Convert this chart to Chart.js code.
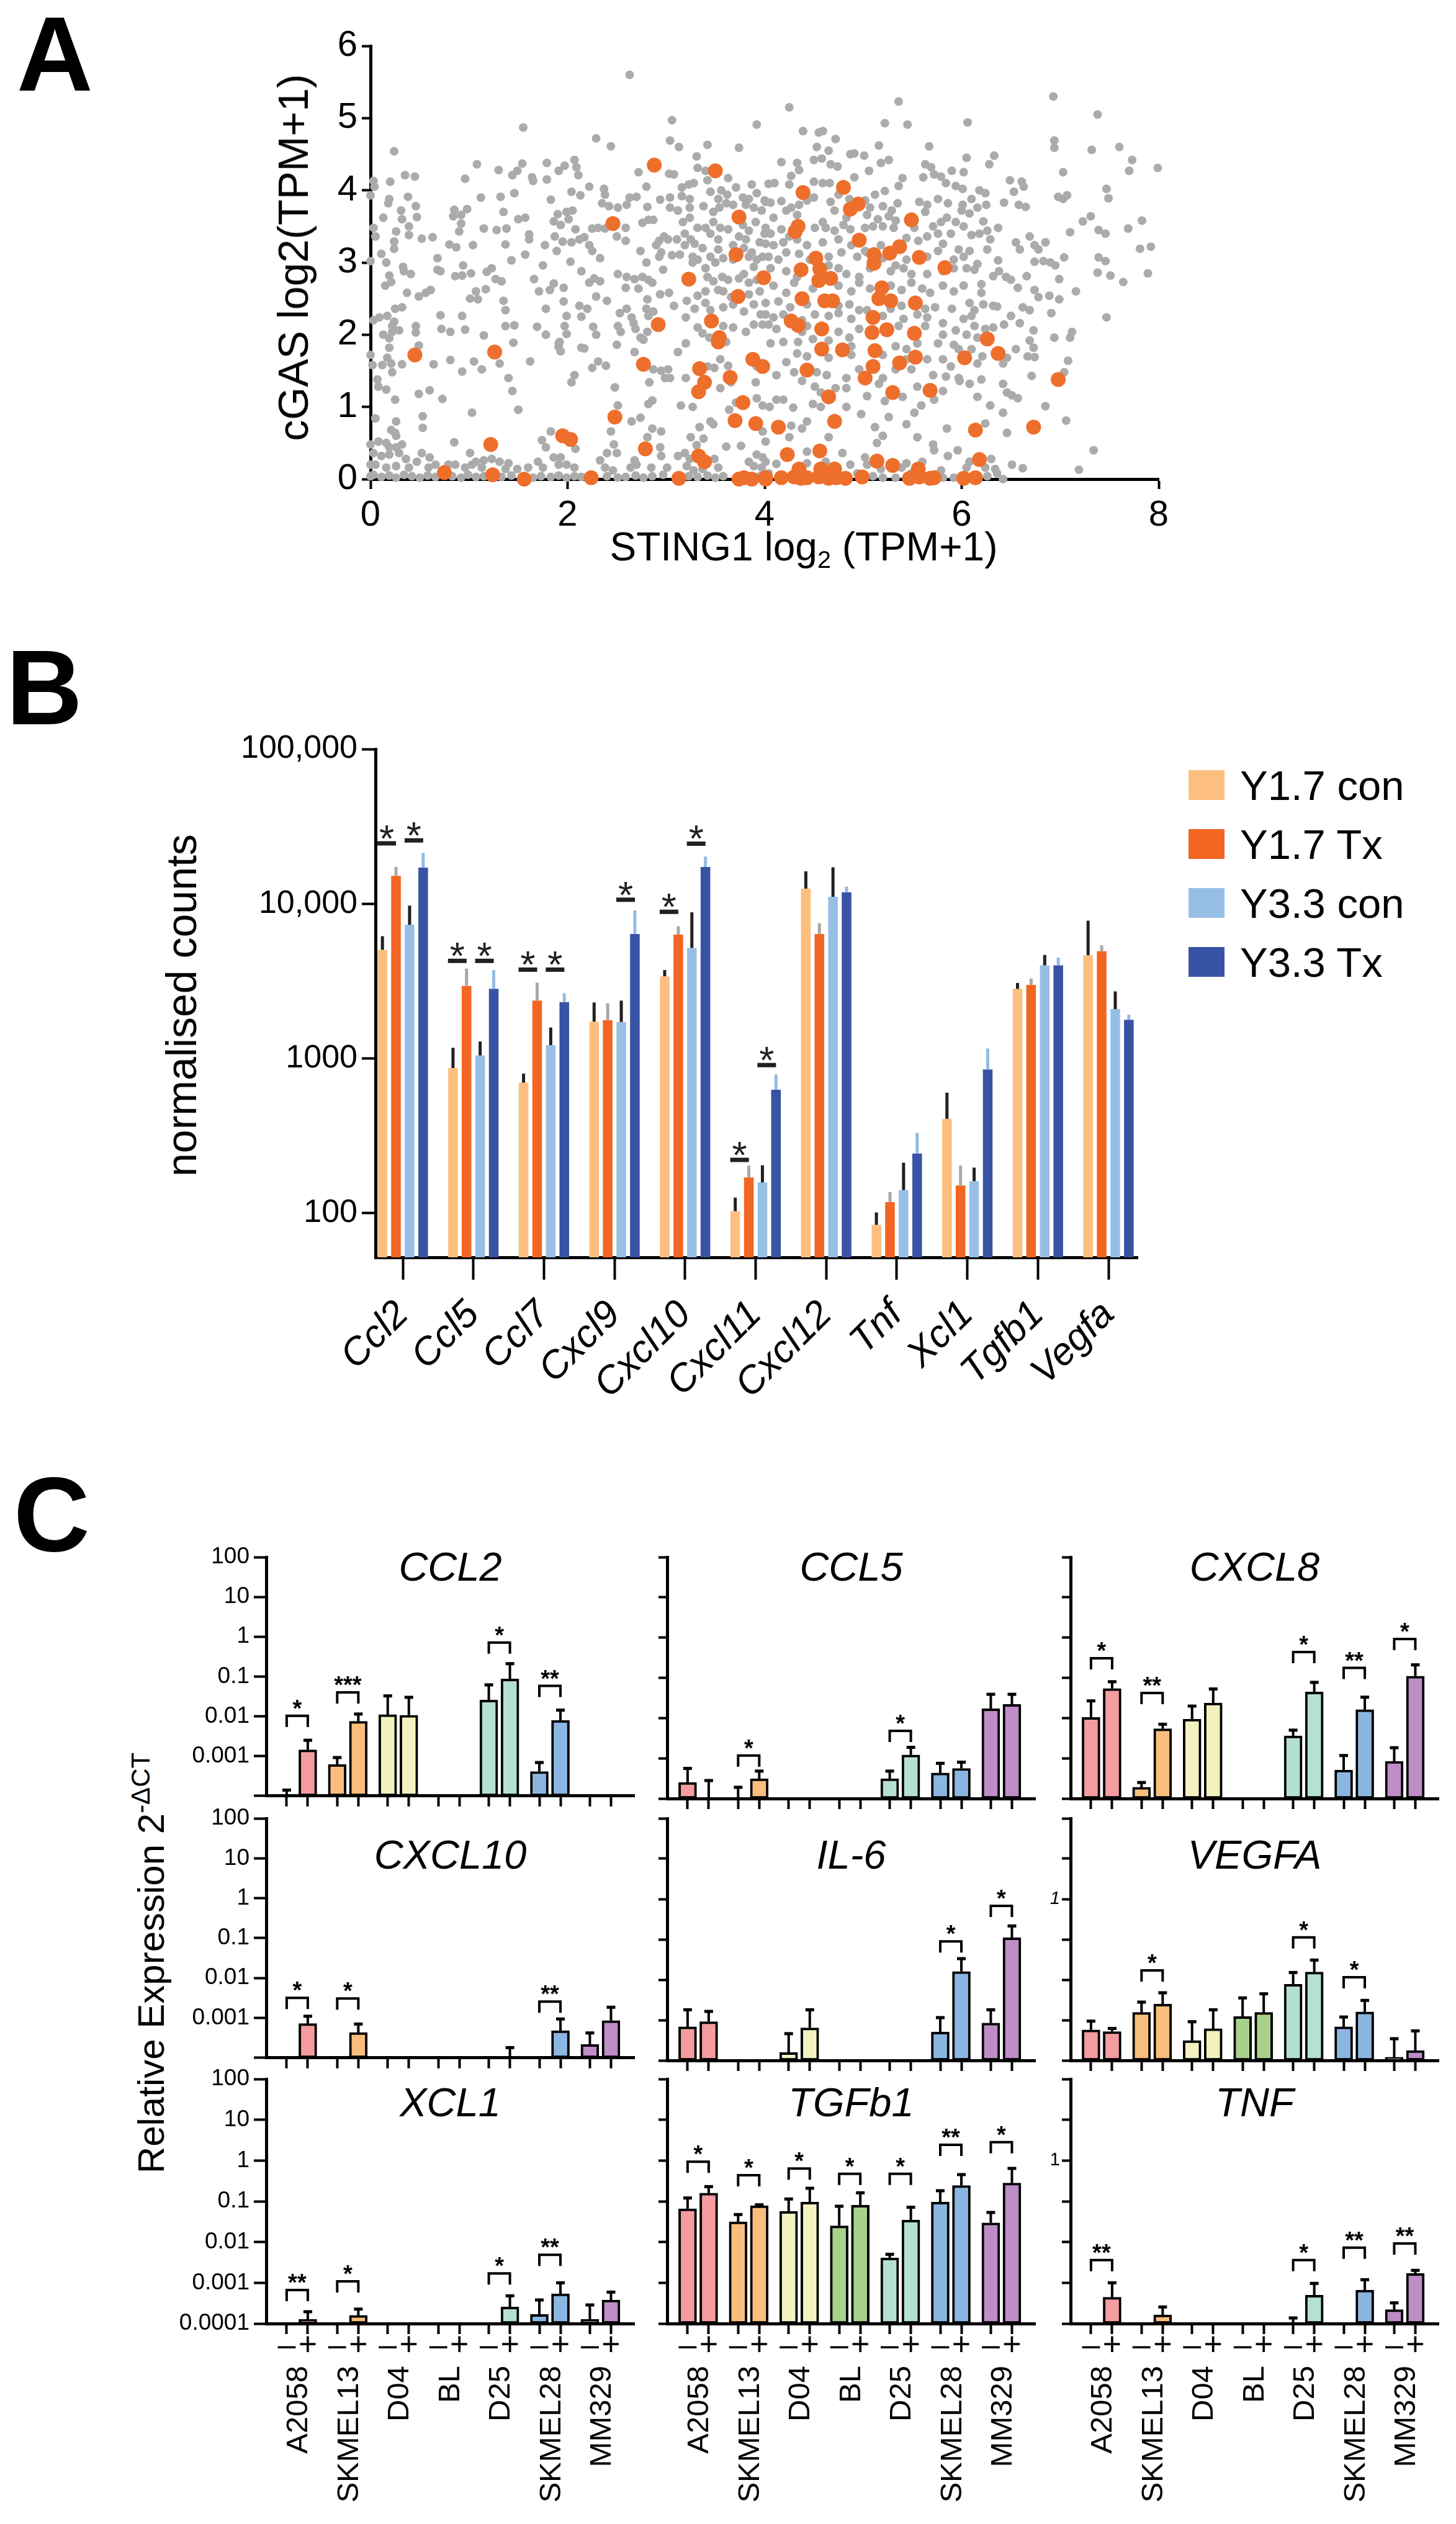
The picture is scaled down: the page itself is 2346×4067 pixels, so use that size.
<!DOCTYPE html>
<html><head><meta charset="utf-8">
<script src="https://cdn.jsdelivr.net/npm/chart.js@4.4.1/dist/chart.umd.min.js"></script>
<style>
html,body{margin:0;padding:0;background:#fff;}
body{width:2346px;height:4067px;position:relative;overflow:hidden;font-family:'Liberation Sans',Arial,sans-serif;color:#000;}
canvas{position:absolute;}
.t{position:absolute;line-height:1;white-space:nowrap;}
</style></head>
<body>
<script>
// ---------------- DATA: panel A (STING1 vs cGAS, log2(TPM+1)) ----------------
const highlightGenes = [
[2.88,4.35],[3.50,4.27],[2.46,3.54],[3.74,3.63],[3.71,3.11],[3.23,2.77],[3.73,2.53],[3.99,2.79],[2.92,2.14],[3.46,2.19],[3.54,1.96],[3.53,1.90],[0.45,1.72],[1.26,1.76],[2.77,1.59],[3.34,1.53],[3.39,1.34],[3.33,1.21],[3.65,1.41],[3.88,1.66],[3.98,1.56],[3.78,1.06],[3.70,0.81],[3.91,0.77],[2.48,0.86],[1.95,0.60],[2.03,0.55],[1.22,0.48],[2.79,0.42],[3.33,0.32],[3.39,0.24],[0.75,0.09],[1.24,0.06],[1.56,0.00],[2.24,0.02],[3.13,0.01],[3.74,0.00],[3.79,0.02],[3.87,0.00],[4.01,0.00],
[4.39,3.97],[4.80,4.04],[4.87,3.74],[4.95,3.81],[5.49,3.59],[4.34,3.50],[4.31,3.43],[4.96,3.31],[4.52,3.06],[5.11,3.11],[5.11,2.99],[5.27,3.13],[5.37,3.22],[5.57,3.07],[5.83,2.93],[4.37,2.90],[4.56,2.91],[4.55,2.75],[4.67,2.78],[5.19,2.65],[4.38,2.50],[4.61,2.47],[4.69,2.47],[5.16,2.50],[5.28,2.47],[5.53,2.44],[4.27,2.19],[4.34,2.13],[4.58,2.08],[5.10,2.24],[5.09,2.03],[5.24,2.07],[5.52,2.02],[4.58,1.80],[4.79,1.79],[5.12,1.78],[5.53,1.69],[5.37,1.61],[5.10,1.56],[5.02,1.40],[4.43,1.51],[6.26,1.94],[6.37,1.74],[6.03,1.68],[6.98,1.38],[4.65,1.14],[5.30,1.20],[5.68,1.23],[4.71,0.80],[4.14,0.72],[6.14,0.68],[6.73,0.72],[4.23,0.34],[4.56,0.39],[5.14,0.25],[5.30,0.19],[6.18,0.27],
[4.01,0.02],[4.17,0.02],[4.30,0.03],[4.37,0.01],[4.43,0.02],[4.55,0.03],[4.65,0.01],[4.73,0.02],[4.82,0.01],[4.99,0.03],[5.47,0.01],[5.57,0.03],[5.68,0.01],[5.72,0.02],[6.02,0.01],[6.14,0.02],[4.35,0.14],[4.71,0.14],[4.57,0.14],[5.56,0.14]
];
const otherGenes = [
[2.63,5.60],[1.55,4.87],[3.06,4.97],[3.92,4.91],[2.29,4.72],[2.44,4.61],[3.04,4.69],[3.13,4.60],[3.42,4.63],[3.74,4.59],[0.24,4.54],[3.31,4.47],
[1.08,4.36],[1.54,4.37],[1.79,4.38],[2.07,4.42],[1.97,4.34],[1.91,4.27],[2.09,4.32],[2.11,4.21],[1.30,4.28],[1.49,4.27],[1.44,4.21],[0.35,4.21],[0.45,4.19],[2.72,4.25],[3.03,4.23],[3.08,4.22],[3.32,4.31],[3.40,4.27],[3.63,4.17],
[0.03,4.13],[0.04,4.05],[0.20,4.12],[0.96,4.16],[1.64,4.18],[1.65,4.13],[1.79,4.15],[2.22,4.05],[2.37,4.02],[2.80,4.05],[3.16,4.04],[3.23,4.08],[3.28,4.10],[3.42,4.14],[3.87,4.08],[3.92,3.96],[3.56,4.00],[3.62,3.94],[3.71,4.04],
[0.00,3.93],[0.19,3.88],[0.18,3.82],[0.38,3.91],[1.12,3.90],[1.32,3.91],[1.46,3.96],[1.83,3.87],[2.04,3.98],[2.13,3.93],[2.38,3.94],[2.63,3.90],[2.70,3.91],[2.94,3.87],[3.04,3.90],[3.16,3.92],[3.24,3.88],[3.45,3.98],[3.53,3.88],[3.61,3.82],[3.78,3.90],[3.84,3.88],[4.00,3.86],
[0.31,3.72],[0.46,3.78],[0.85,3.73],[0.98,3.74],[1.35,3.70],[1.50,3.60],[1.57,3.62],[1.90,3.67],[1.99,3.70],[2.05,3.72],[2.35,3.82],[2.42,3.78],[2.51,3.76],[2.60,3.80],[2.81,3.77],[3.04,3.76],[3.12,3.72],[3.24,3.76],[3.38,3.78],[3.48,3.70],[3.54,3.76],[3.68,3.80],[3.81,3.80],[3.89,3.76],[3.97,3.72],
[0.13,3.62],[0.32,3.60],[0.47,3.63],[0.84,3.64],[0.92,3.66],[1.15,3.47],[1.28,3.45],[1.38,3.47],[1.86,3.57],[2.01,3.60],[2.08,3.46],[2.25,3.47],[2.31,3.48],[2.38,3.47],[2.59,3.48],[2.76,3.55],[2.82,3.59],[2.87,3.59],[3.17,3.56],[3.24,3.62],[3.32,3.48],[3.40,3.48],[3.48,3.56],[3.55,3.48],[3.63,3.46],[3.78,3.52],[3.84,3.44],[3.91,3.56],[4.00,3.40],
[0.03,3.48],[0.26,3.43],[0.39,3.50],[0.92,3.54],[1.93,3.52],[3.19,3.40],[3.11,3.32],[3.25,3.32],[3.45,3.40],[3.53,3.32],[3.74,3.36],[3.81,3.32],
[0.05,3.36],[0.39,3.38],[0.52,3.33],[0.63,3.35],[0.90,3.43],[1.61,3.39],[1.61,3.32],[1.87,3.36],[2.17,3.35],[2.12,3.32],[2.98,3.36],[3.02,3.32],[2.93,3.30],
[0.24,3.29],[0.24,3.19],[0.80,3.25],[0.87,3.21],[1.04,3.24],[1.37,3.25],[1.77,3.24],[1.95,3.29],[2.04,3.28],[2.22,3.24],[2.25,3.16],[2.50,3.36],[2.59,3.30],[2.74,3.16],[2.90,3.24],[2.95,3.14],[3.19,3.24],[3.29,3.26],[3.37,3.20],[3.53,3.18],[3.68,3.24],[3.79,3.20],[3.87,3.14],[3.95,3.28],
[0.11,3.12],[1.57,3.11],[1.89,3.16],[2.33,3.06],[3.06,3.10],[3.14,3.11],[3.27,3.08],[3.32,3.04],[3.45,3.08],[3.58,3.06],[3.68,3.04],[3.84,3.08],[3.92,3.04],[3.98,3.08],
[0.00,3.02],[0.16,3.00],[0.68,3.06],[1.43,3.03],[2.03,3.01],[2.80,3.00],[2.93,3.08],[3.27,3.00],[3.50,3.00],[3.89,2.94],
[0.33,2.94],[0.34,2.88],[0.41,2.84],[0.94,2.96],[1.75,2.96],[2.51,2.84],[2.97,2.90],[3.40,2.92],
[0.19,2.82],[0.21,2.73],[0.15,2.68],[0.68,2.90],[0.71,2.88],[0.86,2.81],[0.93,2.82],[1.02,2.85],[1.18,2.87],[1.23,2.92],[1.27,2.77],[1.33,2.74],[1.66,2.77],[1.86,2.71],[1.96,2.65],[1.82,2.62],[2.14,2.88],[2.22,2.72],[2.27,2.78],[2.33,2.74],[2.60,2.80],[2.68,2.77],[2.76,2.80],[2.82,2.76],[2.86,2.72],[3.42,2.80],[3.48,2.74],[3.57,2.80],[3.63,2.76],[3.74,2.78],[3.79,2.84],[3.84,2.72],[3.92,2.76],
[0.37,2.58],[0.49,2.53],[0.56,2.58],[0.61,2.62],[1.01,2.50],[1.07,2.60],[1.09,2.49],[1.17,2.63],[1.35,2.47],[1.71,2.60],[1.96,2.46],[2.29,2.53],[2.40,2.47],[2.59,2.65],[2.72,2.64],[2.81,2.49],[2.94,2.56],[3.03,2.58],[3.08,2.40],[3.21,2.47],[3.32,2.54],[3.40,2.60],[3.53,2.62],[3.58,2.60],[3.66,2.52],[3.84,2.56],[3.95,2.60],
[0.25,2.36],[0.32,2.38],[0.71,2.27],[0.93,2.26],[1.37,2.34],[1.78,2.36],[1.99,2.26],[2.12,2.40],[2.20,2.36],[2.14,2.25],[2.53,2.30],[2.60,2.36],[2.65,2.24],[2.80,2.36],[2.87,2.32],[2.82,2.26],[3.20,2.24],[3.29,2.36],[3.40,2.44],[3.45,2.34],[3.58,2.38],[3.68,2.42],[3.79,2.32],[3.89,2.42],[3.96,2.28],
[0.03,2.20],[0.09,2.24],[0.17,2.26],[0.24,2.18],[0.22,2.12],[0.46,2.12],[0.46,2.03],[0.72,2.08],[0.81,2.04],[0.96,2.07],[1.37,2.12],[1.46,2.13],[1.69,2.11],[1.97,2.12],[2.26,2.11],[2.51,2.12],[2.54,2.04],[2.67,2.16],[2.69,2.08],[2.74,1.96],[2.81,2.04],[3.32,2.10],[3.58,2.12],[3.68,2.10],[3.81,2.04],[3.89,2.14],[3.98,2.14],
[0.13,2.00],[0.22,2.04],[0.29,2.06],[0.19,1.95],[1.15,1.99],[1.45,1.89],[1.78,2.00],[1.99,2.01],[1.92,1.90],[2.29,2.00],[2.50,1.86],[2.68,1.76],[2.77,1.93],[3.20,1.88],[3.61,1.90],[3.37,2.02],[3.44,1.96],
[0.00,1.72],[0.02,1.58],[0.17,1.68],[0.19,1.82],[0.21,1.60],[0.22,1.48],[0.12,1.58],[0.32,1.59],[0.49,1.85],[0.64,1.59],[0.81,1.65],[0.93,1.49],[1.05,1.63],[1.13,1.52],[1.31,1.60],[1.62,1.63],[1.91,1.83],[1.93,1.77],[1.91,1.88],[2.14,1.82],[2.17,1.81],[2.25,1.54],[2.31,1.63],[2.39,1.57],[2.87,1.52],[2.95,1.50],[3.02,1.52],[2.99,1.40],[3.04,1.40],[3.20,1.40],[3.12,1.76],[3.42,1.56],[3.49,1.54],[3.63,1.57],[3.55,1.66],[3.92,1.56],
[0.07,1.38],[0.08,1.28],[0.16,1.24],[1.40,1.40],[2.07,1.44],[2.04,1.34],[2.83,1.34],[3.55,1.26],[3.66,1.34],[3.91,1.34],
[0.49,1.18],[0.60,1.23],[0.25,1.10],[0.73,1.11],[1.44,1.22],[1.50,0.96],[2.48,1.27],[2.51,1.02],[2.86,1.09],[2.82,1.04],[3.15,1.02],[3.27,1.00],[3.92,1.12],[3.71,1.06],[3.64,0.96],
[0.05,0.84],[0.53,0.87],[0.53,0.71],[0.26,0.80],[1.03,0.92],[3.45,0.80],[3.34,0.72],[2.74,0.85],[2.65,0.80],[3.98,1.02],
[0.21,0.68],[0.25,0.64],[1.83,0.66],[2.86,0.70],[2.95,0.66],[3.48,0.76],[2.44,0.66],[3.98,0.66],[3.61,0.45],[3.76,0.46],
[0.00,0.48],[0.08,0.52],[0.16,0.50],[0.19,0.44],[0.26,0.60],[0.32,0.48],[0.26,0.44],[0.85,0.51],[1.74,0.54],[1.78,0.44],[2.08,0.42],[2.47,0.48],[2.81,0.58],[2.94,0.44],[3.25,0.58],[3.38,0.56],[3.31,0.47],
[0.03,0.36],[0.11,0.32],[0.19,0.34],[0.29,0.36],[0.36,0.28],[0.52,0.36],[0.60,0.30],[1.01,0.36],[1.07,0.24],[1.15,0.26],[1.23,0.28],[1.31,0.24],[1.40,0.22],[1.70,0.24],[1.86,0.30],[1.93,0.30],[2.33,0.26],[2.40,0.36],[2.50,0.36],[2.68,0.26],[2.95,0.32],[3.12,0.32],[3.19,0.36],[3.24,0.28],[3.49,0.28],[3.92,0.34],[3.98,0.30],[3.84,0.24],
[0.00,0.20],[0.05,0.20],[0.16,0.16],[0.26,0.18],[0.39,0.16],[0.47,0.24],[0.59,0.16],[0.66,0.20],[0.79,0.20],[0.86,0.20],[0.96,0.16],[1.03,0.20],[1.13,0.16],[1.37,0.14],[1.49,0.14],[1.60,0.16],[1.75,0.16],[1.91,0.20],[1.99,0.20],[2.07,0.16],[2.38,0.16],[2.46,0.12],[2.64,0.16],[2.70,0.20],[2.85,0.16],[3.01,0.16],[3.21,0.18],[3.28,0.12],[3.37,0.14],[3.53,0.16],[3.89,0.18],[3.97,0.16],
[0.00,0.04],[0.03,0.06],[0.11,0.03],[0.19,0.05],[0.26,0.02],[0.34,0.06],[0.42,0.04],[0.50,0.02],[0.58,0.05],[0.66,0.03],[0.83,0.04],[0.92,0.02],[0.99,0.06],[1.07,0.03],[1.15,0.04],[1.33,0.03],[1.43,0.05],[1.65,0.02],[1.73,0.04],[1.83,0.03],[1.91,0.05],[1.99,0.02],[2.07,0.04],[2.14,0.03],[2.40,0.04],[2.51,0.02],[2.59,0.03],[2.69,0.05],[2.77,0.02],[2.86,0.04],[2.97,0.06],[3.23,0.04],[3.32,0.03],[3.42,0.05],[3.50,0.02],[3.58,0.04],[3.95,0.04],
[6.93,5.30],[5.36,5.23],[4.25,5.15],[7.38,5.05],[5.22,4.93],[5.45,4.91],[6.06,4.94],[4.39,4.82],[4.55,4.80],[4.59,4.82],[4.72,4.71],[6.94,4.69],[6.94,4.59],[7.32,4.56],[7.60,4.60],[5.16,4.62],[5.67,4.61],[4.53,4.60],[4.65,4.55],
[4.17,4.39],[4.33,4.38],[4.35,4.28],[4.50,4.42],[4.58,4.44],[4.67,4.36],[4.74,4.33],[4.87,4.50],[4.91,4.51],[5.01,4.48],[5.18,4.38],[5.26,4.42],[5.06,4.27],[5.63,4.36],[5.69,4.32],[6.05,4.45],[6.33,4.48],[6.28,4.36],[7.73,4.42],[7.70,4.27],[7.99,4.31],[7.03,4.25],[5.90,4.27],[6.02,4.25],
[4.27,4.20],[4.25,4.08],[4.04,4.09],[4.10,4.10],[4.50,4.12],[4.59,4.10],[4.66,4.10],[4.91,4.18],[5.40,4.17],[5.36,4.06],[5.61,4.18],[5.72,4.22],[5.79,4.19],[5.84,4.10],[5.94,4.06],[6.01,4.02],[6.18,4.00],[6.24,3.96],[6.49,4.14],[6.61,4.12],[6.63,4.05],[6.53,3.98],[7.47,4.02],[7.49,3.89],[6.98,3.91],[7.07,3.93],[7.03,3.88],
[4.01,3.84],[4.06,3.83],[4.17,3.85],[4.27,3.76],[4.35,3.80],[4.43,3.86],[4.50,3.90],[4.67,3.84],[4.75,3.94],[4.86,3.88],[5.02,3.86],[5.12,3.94],[5.22,3.99],[5.07,3.76],[5.20,3.78],[5.29,3.72],[5.35,3.82],[5.57,3.84],[5.65,3.80],[5.76,3.88],[5.86,3.82],[6.01,3.80],[6.10,3.88],[6.16,3.76],[6.25,3.80],[6.43,3.83],[6.58,3.80],[6.65,3.77],
[4.09,3.62],[4.22,3.72],[4.33,3.66],[4.59,3.56],[4.71,3.72],[4.83,3.62],[5.04,3.66],[5.15,3.60],[5.26,3.64],[5.33,3.58],[5.63,3.70],[5.71,3.50],[5.79,3.56],[5.85,3.62],[5.94,3.56],[6.00,3.72],[6.08,3.68],[6.22,3.57],[7.23,3.57],[7.31,3.64],[7.83,3.58],[7.69,3.47],
[4.01,3.48],[4.06,3.40],[4.17,3.46],[4.25,3.36],[4.51,3.48],[4.62,3.48],[4.71,3.44],[4.80,3.52],[4.87,3.46],[5.02,3.48],[5.10,3.50],[5.20,3.50],[5.31,3.48],[5.52,3.48],[5.65,3.36],[5.76,3.40],[5.89,3.40],[6.02,3.50],[6.10,3.38],[6.18,3.40],[6.26,3.44],[6.37,3.48],[6.29,3.32],[7.10,3.42],[7.39,3.45],[7.46,3.40],
[4.01,3.26],[4.09,3.24],[4.19,3.28],[4.33,3.32],[4.43,3.24],[4.59,3.28],[4.75,3.32],[4.88,3.24],[5.02,3.16],[5.18,3.24],[5.44,3.34],[5.56,3.30],[5.81,3.26],[5.97,3.18],[6.08,3.16],[6.26,3.18],[6.55,3.28],[6.59,3.18],[6.69,3.36],[6.74,3.24],[6.78,3.18],[6.85,3.28],[7.81,3.19],[7.92,3.22],
[4.04,3.08],[4.14,3.04],[4.22,3.14],[4.35,3.12],[4.46,3.04],[4.65,3.08],[4.78,3.14],[4.94,3.08],[5.04,3.14],[5.20,3.06],[5.33,2.96],[5.44,3.04],[5.65,3.08],[5.76,3.16],[5.92,3.04],[6.02,3.08],[6.16,2.98],[6.37,3.03],[6.74,3.01],[6.83,3.02],[6.90,3.00],[6.95,2.96],[7.04,3.07],[7.39,3.07],[7.46,3.02],
[4.06,2.92],[4.22,2.88],[4.33,2.80],[4.65,2.96],[4.75,2.92],[4.83,2.84],[4.96,2.80],[5.07,2.92],[5.28,2.88],[5.41,2.92],[5.49,2.84],[5.65,2.84],[5.81,2.88],[5.92,2.92],[6.05,2.92],[6.13,2.90],[6.32,2.81],[6.38,2.88],[6.45,2.80],[6.50,2.76],[6.66,2.81],[6.99,2.77],[7.38,2.86],[7.51,2.82],[7.64,2.73],[7.89,2.85],
[4.09,2.68],[4.22,2.58],[4.30,2.72],[4.49,2.64],[4.75,2.68],[4.88,2.60],[4.96,2.72],[5.07,2.64],[5.28,2.68],[5.39,2.62],[5.49,2.72],[5.60,2.64],[5.68,2.58],[5.81,2.68],[5.92,2.60],[6.02,2.68],[6.20,2.70],[6.20,2.58],[6.57,2.65],[6.74,2.62],[6.78,2.52],[6.89,2.54],[6.99,2.49],[7.16,2.60],
[4.01,2.44],[4.14,2.46],[4.26,2.38],[4.43,2.42],[4.75,2.40],[4.86,2.42],[4.96,2.34],[5.28,2.36],[5.39,2.40],[5.63,2.36],[5.73,2.38],[5.90,2.36],[6.08,2.44],[6.13,2.34],[6.22,2.42],[6.32,2.40],[6.36,2.39],[6.62,2.38],[6.69,2.34],[6.91,2.30],[7.47,2.24],
[4.01,2.28],[4.09,2.24],[4.19,2.28],[4.38,2.20],[4.51,2.28],[4.65,2.26],[4.75,2.30],[4.88,2.22],[5.04,2.34],[5.20,2.26],[5.41,2.22],[5.55,2.28],[5.65,2.24],[5.81,2.16],[6.02,2.22],[6.10,2.26],[6.13,2.12],[6.50,2.26],[6.59,2.16],[6.73,2.06],
[4.04,2.14],[4.12,2.08],[4.38,2.04],[4.43,2.12],[4.75,2.04],[4.86,1.96],[4.96,2.08],[5.36,2.12],[5.63,2.12],[5.81,2.00],[5.94,2.06],[6.05,2.00],[6.16,1.96],[6.24,2.08],[6.32,2.10],[6.43,2.14],[6.69,1.92],[6.94,1.96],[7.10,1.96],[7.12,2.04],
[4.06,1.88],[4.19,1.90],[4.34,1.90],[4.49,1.94],[4.65,1.92],[4.88,1.84],[5.33,1.84],[5.44,1.80],[5.55,1.88],[5.76,1.88],[5.92,1.86],[5.97,1.80],[6.10,1.80],[6.21,1.70],[6.46,1.68],[6.55,1.80],[6.73,1.82],[6.67,1.70],[6.74,1.69],
[4.22,1.62],[4.33,1.74],[4.43,1.70],[4.65,1.68],[4.88,1.72],[5.20,1.72],[5.44,1.66],[5.65,1.66],[5.81,1.66],[5.89,1.56],[6.16,1.60],[6.42,1.60],[7.08,1.64],
[4.12,1.44],[4.30,1.48],[4.38,1.36],[4.53,1.48],[4.63,1.44],[4.83,1.40],[4.96,1.52],[5.20,1.40],[5.33,1.52],[5.49,1.52],[5.71,1.44],[5.84,1.42],[5.97,1.40],[6.08,1.32],[6.20,1.38],[6.71,1.43],[7.04,1.48],
[4.51,1.28],[4.57,1.20],[4.72,1.26],[4.83,1.26],[5.16,1.32],[5.55,1.28],[5.81,1.22],[5.98,1.36],[6.42,1.32],[6.46,1.20],[6.51,1.16],[6.57,1.12],
[4.12,1.10],[4.19,1.10],[4.49,1.04],[4.57,1.00],[4.83,1.00],[5.04,1.15],[5.22,1.08],[5.40,1.14],[5.52,0.92],[5.59,1.02],[5.72,1.10],[6.16,1.14],[6.29,1.02],[6.42,0.92],[6.85,1.01],
[4.05,1.00],[4.29,0.99],[4.43,0.80],[4.98,0.90],[5.26,0.86],[5.44,0.76],[7.06,0.81],[6.24,0.77],
[4.27,0.74],[4.38,0.70],[4.25,0.58],[4.65,0.58],[5.12,0.72],[5.20,0.60],[5.55,0.58],[5.85,0.70],[6.46,0.64],[7.34,0.40],
[4.01,0.52],[4.43,0.38],[4.79,0.36],[5.14,0.50],[5.71,0.48],[5.72,0.40],[5.96,0.40],[5.86,0.32],[6.51,0.20],[6.62,0.15],[7.19,0.13],[6.30,0.28],
[4.01,0.24],[4.12,0.21],[4.43,0.22],[4.62,0.24],[4.87,0.20],[5.02,0.30],[5.04,0.20],[5.18,0.14],[5.39,0.16],[5.44,0.22],[5.60,0.24],[5.79,0.12],[6.05,0.16],[6.08,0.24],[6.24,0.16],[6.34,0.14],[6.36,0.08],
[4.04,0.08],[4.59,0.12],[4.94,0.08],[5.10,0.04],[5.20,0.02],[5.33,0.02],[5.49,0.08],[5.81,0.02],[5.92,0.02],[6.26,0.04],[6.42,0.00]
];
const aTicksX = [0,2,4,6,8];
const aTicksY = [0,1,2,3,4,5,6];

// ---------------- DATA: panel B (normalised counts) ----------------
const genesB = ['Ccl2','Ccl5','Ccl7','Cxcl9','Cxcl10','Cxcl11','Cxcl12','Tnf','Xcl1','Tgfb1','Vegfa'];
const y17con   = [5040, 867, 697, 1730, 3396, 103, 12530, 84, 407, 2818, 4645];
const y17conHi = [6170, 1172, 798, 2300, 3727, 126, 16200, 101, 601, 3076, 7770];
const y17tx    = [15170, 2944, 2366, 1770, 6310, 170, 6380, 118, 151, 2992, 4932];
const y17txHi  = [17300, 3810, 3090, 2275, 7160, 203, 7480, 137, 203, 3286, 5380];
const y33con   = [7315, 1045, 1219, 1722, 5180, 158, 11100, 141, 161, 4000, 2084];
const y33conHi = [9730, 1288, 1585, 2366, 8810, 204, 17200, 212, 197, 4670, 2713];
const y33tx    = [17110, 2818, 2313, 6380, 17300, 628, 11860, 243, 849, 4000, 1778];
const y33txHi  = [21300, 3725, 2638, 9060, 20180, 790, 12940, 330, 1159, 4487, 1920];
const seriesNamesB = ['Y1.7 con','Y1.7 Tx','Y3.3 con','Y3.3 Tx'];
// significance: [gene index, pair (0 = Y1.7, 1 = Y3.3), level]
const sigB = [[0,0,24580],[0,1,25680],[1,0,4275],[1,1,4275],[2,0,3750],[2,1,3750],[3,1,10620],[4,0,8870],[4,1,24450],[5,0,221],[5,1,906]];
const bTickValues = [100, 1000, 10000, 100000];
const bTickLabels = ['100', '1000', '10,000', '100,000'];

// ---------------- DATA: panel C (relative expression 2^-dCT) ----------------
const cellLines = ['A2058','SKMEL13','D04','BL','D25','SKMEL28','MM329'];
const treatLabels = ['–','+'];
const cTickValues = [0.0001, 0.001, 0.01, 0.1, 1, 10, 100];
const cTickLabels = ['0.0001','0.001','0.01','0.1','1','10','100'];
// order per gene: A2058 -,+ | SKMEL13 -,+ | D04 -,+ | BL -,+ | D25 -,+ | SKMEL28 -,+ | MM329 -,+
const ccl2Mean  = [0.0001, 0.00143, 0.00062, 0.0075, 0.011, 0.0106, null, null, 0.0257, 0.0867, 0.00041, 0.0079, null, null];
const ccl2Hi    = [0.00014, 0.0025, 0.00092, 0.0114, 0.0326, 0.030, null, null, 0.0616, 0.21, 0.00069, 0.0143, null, null];
const ccl2Sig   = [[0,0.0103,'*'],[1,0.040,'***'],[4,0.71,'*'],[5,0.058,'**']];
const ccl5Mean  = [0.00025, 0.0001, 0.0001, 0.00031, null, null, null, null, 0.00031, 0.00121, 0.00043, 0.00056, 0.017, 0.0218];
const ccl5Hi    = [0.00056, 0.00028, 0.00019, 0.00048, null, null, null, null, 0.00048, 0.00187, 0.00075, 0.0008, 0.0389, 0.0389];
const ccl5Sig   = [[1,0.00117,'*'],[4,0.00481,'*']];
const cxcl8Mean = [0.0104, 0.054, 0.00019, 0.0054, 0.0094, 0.0237, null, null, 0.0036, 0.0443, 0.00051, 0.0162, 0.00084, 0.11];
const cxcl8Hi   = [0.0267, 0.08, 0.00025, 0.0070, 0.0198, 0.0528, null, null, 0.0050, 0.077, 0.00117, 0.033, 0.00183, 0.21];
const cxcl8Sig  = [[0,0.307,'*'],[1,0.0418,'**'],[4,0.438,'*'],[5,0.176,'**'],[6,0.92,'*']];
const cxcl10Mean= [null, 0.00072, null, 0.00043, null, null, null, null, null, 0.0001, null, 0.00048, 0.000215, 0.00086];
const cxcl10Hi  = [null, 0.0011, null, 0.0007, null, null, null, null, null, 0.00018, null, 0.00094, 0.00042, 0.00185];
const cxcl10Sig = [[0,0.00318,'*'],[1,0.00306,'*'],[5,0.00257,'**']];
const il6Mean   = [0.00068, 0.00091, null, null, 0.000157, 0.00064, null, null, null, null, 0.000505, 0.016, 0.00084, 0.11];
const il6Hi     = [0.0018, 0.00164, null, null, 0.00046, 0.0018, null, null, null, null, 0.00115, 0.0333, 0.0018, 0.215];
const il6Sig    = [[5,0.089,'*'],[6,0.678,'*']];
const vegfaMean = [0.00057, 0.00052, 0.00155, 0.00248, 0.00031, 0.00061, 0.00122, 0.00155, 0.0077, 0.0155, 0.00068, 0.0016, 0.00012, 0.000176];
const vegfaHi   = [0.00094, 0.00062, 0.00279, 0.00475, 0.00091, 0.0018, 0.00354, 0.00448, 0.0151, 0.0307, 0.00119, 0.00307, 0.000345, 0.00054];
const vegfaSig  = [[1,0.017,'*'],[4,0.112,'*'],[5,0.0115,'*']];
const xcl1Mean  = [null, 0.000126, null, 0.000158, null, null, null, null, null, 0.000255, 0.000167, 0.000538, 0.000126, 0.000379];
const xcl1Hi    = [null, 0.000195, null, 0.000226, null, null, null, null, null, 0.000479, 0.000379, 0.001, 0.000286, 0.000591];
const xcl1Sig   = [[0,0.000664,'**'],[1,0.00109,'*'],[4,0.00169,'*'],[5,0.00484,'**']];
const tgfb1Mean = [0.0656, 0.158, 0.0314, 0.0782, 0.0564, 0.0955, 0.0249, 0.0801, 0.00406, 0.0345, 0.0955, 0.243, 0.0296, 0.28];
const tgfb1Hi   = [0.1205, 0.229, 0.0473, 0.082, 0.1137, 0.209, 0.0755, 0.1615, 0.005, 0.0713, 0.1815, 0.452, 0.0532, 0.641];
const tgfb1Sig  = [[0,0.933,'*'],[1,0.436,'*'],[2,0.634,'*'],[3,0.473,'*'],[4,0.473,'*'],[5,2.43,'**'],[6,2.83,'*']];
const tnfMean   = [null, 0.000442, null, 0.000163, null, null, null, null, 0.0001, 0.000495, null, 0.000664, 0.000219, 0.00169];
const tnfHi     = [null, 0.001, null, 0.000255, null, null, null, null, 0.000137, 0.000966, null, 0.00119, 0.000322, 0.00202];
const tnfSig    = [[0,0.00361,'**'],[4,0.00361,'*'],[5,0.0073,'**'],[6,0.0092,'**']];

// ---------------- STYLE / LAYOUT ----------------
const FONT = "'Liberation Sans', Arial, Helvetica, sans-serif";
Chart.defaults.font.family = FONT;
Chart.defaults.color = '#000';
const colorsB = ['#FDBF80','#F26522','#97BFE6','#3953A4'];
const errColorsB = ['#231F20','#A7A9AC','#231F20','#93BBE3'];
const cellColors = ['#F49CA0','#F9BE7E','#F3F2BF','#A8D18C','#B4E0CF','#8CB6E2','#BE8DC6'];

function makeCanvas(left, top, w, h) {
  const c = document.createElement('canvas');
  c.width = w; c.height = h;
  c.style.left = left + 'px'; c.style.top = top + 'px';
  c.style.width = w + 'px'; c.style.height = h + 'px';
  document.body.appendChild(c);
  return c;
}
function addText(html, cx, cy, size, o) {
  o = o || {};
  const d = document.createElement('div');
  d.className = 't';
  d.innerHTML = html;
  d.style.left = cx + 'px'; d.style.top = cy + 'px';
  d.style.fontSize = size + 'px';
  d.style.fontStyle = o.italic ? 'italic' : 'normal';
  d.style.fontWeight = o.bold ? 'bold' : 'normal';
  d.style.transform = 'translate(-50%,-50%)' + (o.rotate ? ' rotate(-90deg)' : '');
  document.body.appendChild(d);
  return d;
}
function addLetter(ch, left, top) {
  const d = document.createElement('div');
  d.className = 't';
  d.textContent = ch;
  d.style.left = left + 'px'; d.style.top = top + 'px';
  d.style.fontSize = '170px'; d.style.fontWeight = 'bold';
  document.body.appendChild(d);
}
const axisCommon = (tickLen) => ({
  grid: { drawOnChartArea: false, drawTicks: true, tickLength: tickLen, tickWidth: 4, tickColor: '#000', offset: false },
  border: { display: true, width: 5, color: '#000' }
});

// ---------------- PANEL A ----------------
addLetter('A', 27, 2);
(function () {
  const cv = makeCanvas(0, 0, 2000, 950);
  new Chart(cv, {
    type: 'scatter',
    data: { datasets: [
      { data: highlightGenes.map(p => ({x: p[0], y: p[1]})), backgroundColor: '#EE6F2C', pointRadius: 12, pointHoverRadius: 12, borderWidth: 0, clip: false, order: 0 },
      { data: otherGenes.map(p => ({x: p[0], y: p[1]})), backgroundColor: '#ABABAB', pointRadius: 7, pointHoverRadius: 7, borderWidth: 0, clip: false, order: 1 }
    ]},
    options: {
      responsive: false, animation: false, devicePixelRatio: 1, events: [],
      layout: { padding: { left: 0, top: 74, right: 133, bottom: 0 } },
      plugins: { legend: { display: false }, tooltip: { enabled: false } },
      scales: {
        x: Object.assign({ type: 'linear', min: 0, max: 8,
             afterBuildTicks: s => { s.ticks = aTicksX.map(v => ({value: v})); },
             ticks: { font: { size: 58 }, color: '#000', padding: 8, maxRotation: 0 },
             afterFit: s => { s.height = 178; } }, axisCommon(16)),
        y: Object.assign({ type: 'linear', min: 0, max: 6,
             afterBuildTicks: s => { s.ticks = aTicksY.map(v => ({value: v})); },
             ticks: { font: { size: 58 }, color: '#000', padding: 7 },
             afterFit: s => { s.width = 597; } }, axisCommon(14))
      }
    }
  });
})();
addText('cGAS log2(TPM+1)', 472, 415, 68, {rotate: true});
addText('STING1 log<sub style="font-size:0.62em;vertical-align:-0.3em">2</sub> (TPM+1)', 1295, 885, 64);

// ---------------- PANEL B ----------------
addLetter('B', 10, 1023);
(function () {
  const means = [y17con, y17tx, y33con, y33tx];
  const his = [y17conHi, y17txHi, y33conHi, y33txHi];
  const decor = {
    id: 'bDecor',
    afterDatasetsDraw(chart) {
      const ctx = chart.ctx, ys = chart.scales.y;
      ctx.save();
      means.forEach((m, k) => {
        const meta = chart.getDatasetMeta(k);
        ctx.strokeStyle = errColorsB[k]; ctx.lineWidth = 5; ctx.lineCap = 'butt';
        meta.data.forEach((bar, i) => {
          const yHi = ys.getPixelForValue(his[k][i]);
          ctx.beginPath(); ctx.moveTo(bar.x, bar.y); ctx.lineTo(bar.x, yHi); ctx.stroke();
        });
      });
      ctx.fillStyle = '#231F20';
      ctx.font = '62px ' + FONT; ctx.textAlign = 'center'; ctx.textBaseline = 'alphabetic';
      sigB.forEach(([g, pair, v]) => {
        const b1 = chart.getDatasetMeta(pair * 2).data[g];
        const b2 = chart.getDatasetMeta(pair * 2 + 1).data[g];
        const cx = (b1.x + b2.x) / 2 - 4;
        const cy = ys.getPixelForValue(v);
        ctx.fillRect(cx - 15, cy - 3.5, 30, 7);
        ctx.fillText('*', cx, cy - 23 + 0.58 * 62);
      });
      ctx.restore();
    }
  };
  const cv = makeCanvas(0, 1150, 1900, 1150);
  new Chart(cv, {
    type: 'bar',
    data: { datasets: means.map((m, k) => ({
      label: seriesNamesB[k],
      data: m.map((v, i) => ({x: i, y: v})),
      backgroundColor: colorsB[k], borderWidth: 0,
      categoryPercentage: 0.77, barPercentage: 0.71
    }))},
    options: {
      responsive: false, animation: false, devicePixelRatio: 1, events: [],
      layout: { padding: { left: 0, top: 57, right: 67, bottom: 0 } },
      plugins: { legend: { display: false }, tooltip: { enabled: false } },
      scales: {
        x: Object.assign({ type: 'linear', min: -0.387, max: 10.413, offset: false,
             afterBuildTicks: s => { s.ticks = genesB.map((g, i) => ({value: i})); },
             ticks: { font: { size: 62, style: 'italic' }, color: '#000', padding: 20, minRotation: 45, maxRotation: 45, autoSkip: false,
                      callback: v => genesB[v] },
             afterFit: s => { s.height = 274; } }, axisCommon(36)),
        y: Object.assign({ type: 'logarithmic', min: 51.8, max: 100000,
             afterBuildTicks: s => { s.ticks = bTickValues.map(v => ({value: v})); },
             ticks: { font: { size: 52 }, color: '#000', padding: 7, callback: (v, i) => bTickLabels[i] },
             afterFit: s => { s.width = 605; } }, axisCommon(22))
      }
    },
    plugins: [decor]
  });
})();
addText('normalised counts', 292, 1620, 68, {rotate: true});
seriesNamesB.forEach((name, k) => {
  const top = 1241 + k * 95;
  const sq = document.createElement('div');
  sq.style.cssText = 'position:absolute;left:1915px;top:' + top + 'px;width:58px;height:48px;background:' + colorsB[k];
  document.body.appendChild(sq);
  const d = document.createElement('div');
  d.className = 't';
  d.textContent = name;
  d.style.left = '1998px'; d.style.top = (top + 24) + 'px'; d.style.fontSize = '67px';
  d.style.transform = 'translateY(-50%)';
  document.body.appendChild(d);
});

// ---------------- PANEL C ----------------
addLetter('C', 22, 2355);
addText('Relative Expression 2<sup style="font-size:0.7em;vertical-align:0.55em">-ΔCT</sup>', 240, 3163, 60, {rotate: true});

const pairOffset = 0.209;
const barPositions = [];
cellLines.forEach((c, g) => { barPositions.push(g - pairOffset, g + pairOffset); });
const colAxisX = [429, 1075, 1725];
const rowTop = [2509, 2930, 3350];
const rowBottom = [2898, 3320, 3744];
const titleY = [2524, 2988, 3387];
const plotW = 593;
const cPanels = [
  {gene: 'CCL2',   vals: ccl2Mean,   hi: ccl2Hi,   sig: ccl2Sig},
  {gene: 'CCL5',   vals: ccl5Mean,   hi: ccl5Hi,   sig: ccl5Sig},
  {gene: 'CXCL8',  vals: cxcl8Mean,  hi: cxcl8Hi,  sig: cxcl8Sig},
  {gene: 'CXCL10', vals: cxcl10Mean, hi: cxcl10Hi, sig: cxcl10Sig},
  {gene: 'IL-6',   vals: il6Mean,    hi: il6Hi,    sig: il6Sig},
  {gene: 'VEGFA',  vals: vegfaMean,  hi: vegfaHi,  sig: vegfaSig, unitLabel: 'italic'},
  {gene: 'XCL1',   vals: xcl1Mean,   hi: xcl1Hi,   sig: xcl1Sig},
  {gene: 'TGFb1',  vals: tgfb1Mean,  hi: tgfb1Hi,  sig: tgfb1Sig},
  {gene: 'TNF',    vals: tnfMean,    hi: tnfHi,    sig: tnfSig, unitLabel: 'normal'}
];

cPanels.forEach((p, idx) => {
  const row = Math.floor(idx / 3), col = idx % 3;
  const yW = 230, padTop = 50, padRight = 25;
  const xH = row === 2 ? 300 : 25;
  const plotH = rowBottom[row] - rowTop[row];
  const left = colAxisX[col] - yW, top = rowTop[row] - padTop;
  const cv = makeCanvas(left, top, yW + plotW + padRight, padTop + plotH + xH);
  const decor = {
    id: 'cDecor',
    afterDatasetsDraw(chart) {
      const ctx = chart.ctx, xs = chart.scales.x, ys = chart.scales.y;
      ctx.save();
      ctx.strokeStyle = '#000'; ctx.fillStyle = '#000'; ctx.lineWidth = 4; ctx.lineCap = 'butt'; ctx.lineJoin = 'miter';
      barPositions.forEach((pos, j) => {
        if (p.vals[j] == null || p.hi[j] == null) return;
        const x = xs.getPixelForValue(pos);
        const y0 = ys.getPixelForValue(p.vals[j]);
        const y1 = ys.getPixelForValue(p.hi[j]);
        ctx.beginPath(); ctx.moveTo(x, y0); ctx.lineTo(x, y1); ctx.stroke();
        ctx.beginPath(); ctx.moveTo(x - 7, y1); ctx.lineTo(x + 7, y1); ctx.lineWidth = 5; ctx.stroke(); ctx.lineWidth = 4;
      });
      ctx.font = 'bold 38px ' + FONT; ctx.textAlign = 'center'; ctx.textBaseline = 'alphabetic';
      p.sig.forEach(([g, v, stars]) => {
        const xl = xs.getPixelForValue(g - pairOffset), xr = xs.getPixelForValue(g + pairOffset);
        const y = ys.getPixelForValue(v);
        ctx.beginPath(); ctx.moveTo(xl, y + 18); ctx.lineTo(xl, y); ctx.lineTo(xr, y); ctx.lineTo(xr, y + 18); ctx.stroke();
        ctx.fillText(stars, (xl + xr) / 2, y - 21 + 0.58 * 38);
      });
      ctx.restore();
    },
    afterDraw(chart) {
      if (row !== 2) return;
      const ctx = chart.ctx, xs = chart.scales.x;
      ctx.save();
      ctx.font = '49px ' + FONT; ctx.fillStyle = '#000'; ctx.textAlign = 'right'; ctx.textBaseline = 'middle';
      cellLines.forEach((name, g) => {
        ctx.save();
        ctx.translate(xs.getPixelForValue(g) + 3, chart.chartArea.bottom + 68);
        ctx.rotate(-Math.PI / 2);
        ctx.fillText(name, 0, 0);
        ctx.restore();
      });
      ctx.restore();
    }
  };
  const pts = [], cols = [];
  barPositions.forEach((pos, j) => {
    if (p.vals[j] == null) return;
    pts.push({x: pos, y: p.vals[j]});
    cols.push(cellColors[Math.floor(j / 2)]);
  });
  const yTickFont = col === 0 ? { size: 37 } : { size: 29, style: p.unitLabel === 'italic' ? 'italic' : 'normal' };
  new Chart(cv, {
    type: 'bar',
    data: { datasets: [{ data: pts, backgroundColor: cols, borderColor: '#000', borderWidth: 4, borderSkipped: false, barThickness: 29 }] },
    options: {
      responsive: false, animation: false, devicePixelRatio: 1, events: [],
      layout: { padding: { left: 0, top: padTop, right: padRight, bottom: 0 } },
      plugins: { legend: { display: false }, tooltip: { enabled: false } },
      scales: {
        x: Object.assign({ type: 'linear', min: -0.613, max: 6.67, offset: false,
             afterBuildTicks: s => { s.ticks = barPositions.map(v => ({value: v})); },
             ticks: { display: row === 2, font: { size: 52 }, color: '#000', padding: -12, maxRotation: 0, minRotation: 0, autoSkip: false,
                      callback: (v, i) => treatLabels[i % 2] },
             afterFit: s => { s.height = xH; } }, axisCommon(17)),
        y: Object.assign({ type: 'logarithmic', min: 0.0001, max: 100,
             afterBuildTicks: s => { s.ticks = cTickValues.map(v => ({value: v})); },
             ticks: { font: yTickFont, color: '#000', padding: col === 0 ? 7 : 3,
                      callback: (v, i) => {
                        if (col === 0) return (row === 2 || i > 0) ? cTickLabels[i] : '';
                        if (p.unitLabel && cTickValues[i] === 1) return cTickLabels[i];
                        return '';
                      } },
             afterFit: s => { s.width = yW; } }, axisCommon(col === 0 ? 20 : 14))
      }
    },
    plugins: [decor]
  });
  addText(p.gene, colAxisX[col] + plotW / 2, titleY[row], 65, {italic: true});
});
</script>
</body></html>
